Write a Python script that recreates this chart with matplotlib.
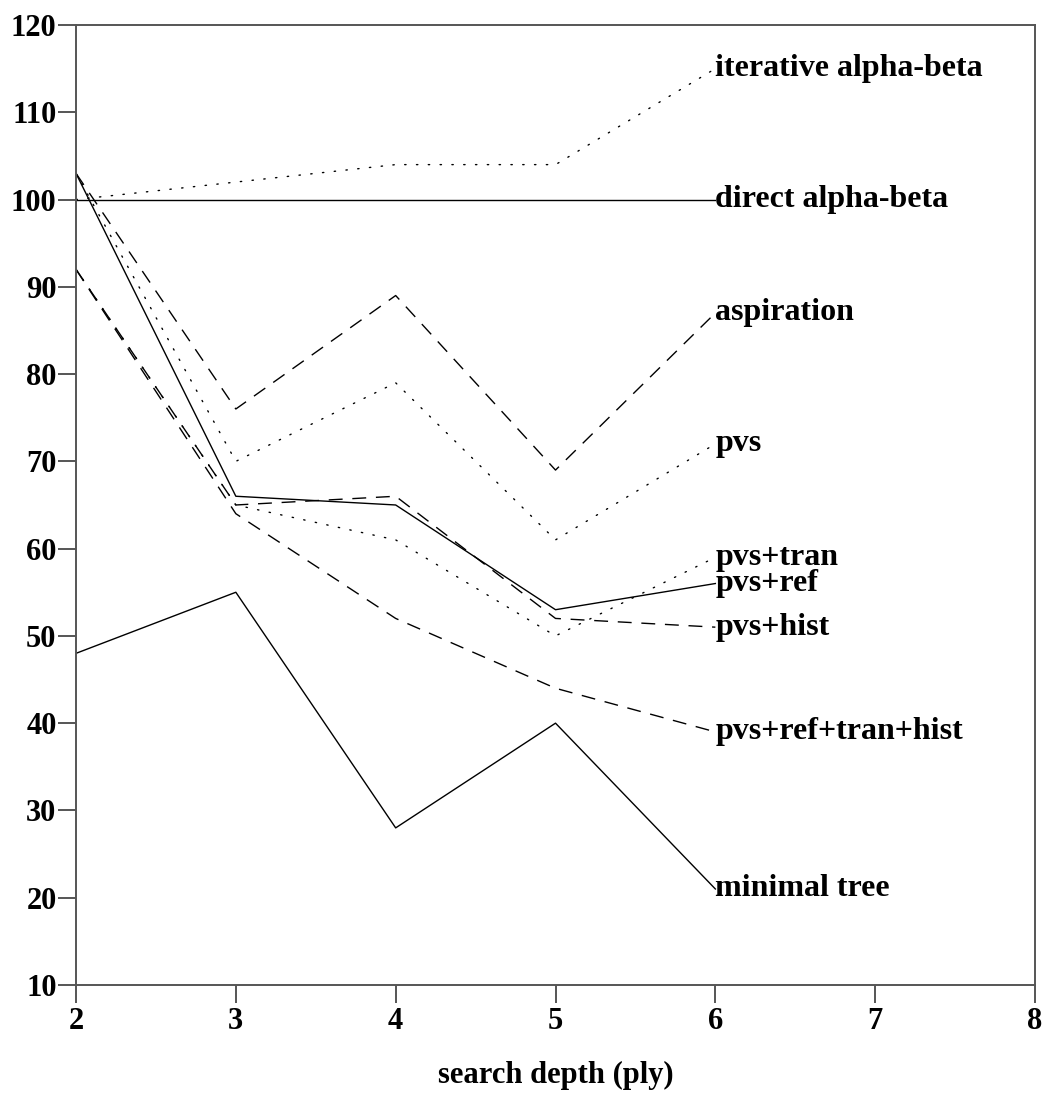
import matplotlib
matplotlib.use("Agg")
import matplotlib.pyplot as plt

depth = [2, 3, 4, 5, 6]

iterative = [100, 102, 104, 104, 115]
direct = [100, 100, 100, 100, 100]
aspiration = [103, 76, 89, 69, 87]
pvs = [103, 70, 79, 61, 72]
pvs_tran = [92, 65, 61, 50, 59]
pvs_ref = [103, 66, 65, 53, 56]
pvs_hist = [92, 65, 66, 52, 51]
pvs_all = [92, 64, 52, 44, 39]
minimal = [48, 55, 28, 40, 21]

series = [
    ("iterative alpha-beta", iterative, "dotted"),
    ("direct alpha-beta", direct, "solid"),
    ("aspiration", aspiration, "dashed"),
    ("pvs", pvs, "dotted"),
    ("pvs+tran", pvs_tran, "dotted"),
    ("pvs+ref", pvs_ref, "solid"),
    ("pvs+hist", pvs_hist, "dashed"),
    ("pvs+ref+tran+hist", pvs_all, "dashed"),
    ("minimal tree", minimal, "solid"),
]

xticks = [2, 3, 4, 5, 6, 7, 8]
yticks = [10, 20, 30, 40, 50, 60, 70, 80, 90, 100, 110, 120]

styles = {
    "dotted": (0, (1.0, 7.5)),
    "dashed": (0, (10, 7)),
    "solid": "-",
}

font = "Liberation Serif"
fig = plt.figure(figsize=(10.44, 10.96), dpi=100)
ax = fig.add_axes([0.0728, 0.1013, 0.9914 - 0.0728, 0.9772 - 0.1013])

for name, vals, st in series:
    ax.plot(depth, vals, color="black", lw=1.0, linestyle=styles[st],
            dash_capstyle="round" if st == "dotted" else "butt")
    ax.text(depth[-1], vals[-1], name, fontfamily=font, fontweight="bold",
            fontsize=23, ha="left", va="center")

ax.set_xlim(2, 8)
ax.set_ylim(10, 120)
ax.set_xticks(xticks)
ax.set_yticks(yticks)
ax.set_xticklabels([str(v) for v in xticks], fontfamily=font, fontweight="bold", fontsize=22)
ax.set_yticklabels([str(v) for v in yticks], fontfamily=font, fontweight="bold", fontsize=22)
ax.tick_params(axis="y", direction="out", length=13, width=1.4, color="#555555", pad=1)
ax.tick_params(axis="x", direction="out", length=13, width=1.4, color="#555555", pad=3)
for sp in ax.spines.values():
    sp.set_color("#555555")
    sp.set_linewidth(1.4)

ax.set_xlabel("search depth (ply)", fontfamily=font, fontweight="bold", fontsize=22, labelpad=18)

fig.savefig("out.png", dpi=100)
